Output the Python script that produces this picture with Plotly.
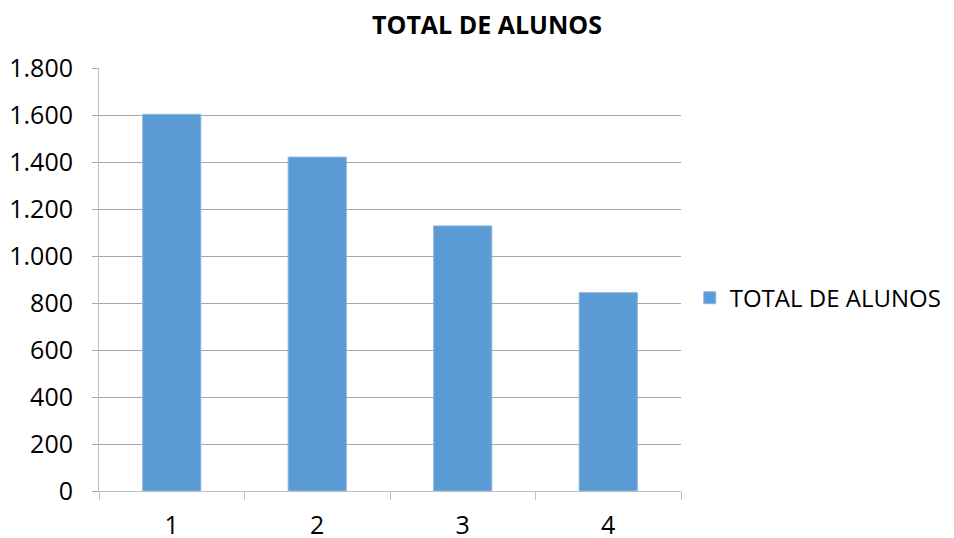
import plotly.graph_objects as go

categories = ["1", "2", "3", "4"]
values = [1603, 1421, 1128, 844]
series_name = "TOTAL DE ALUNOS"
title_text = "TOTAL DE ALUNOS"
y_ticks = [0, 200, 400, 600, 800, 1000, 1200, 1400, 1600, 1800]

FONT = "Open Sans"

fig = go.Figure()
fig.add_trace(go.Bar(
    x=categories, y=values, name=series_name,
    marker=dict(color="#5B9BD5", line=dict(color="#8DB6E2", width=1)),
    showlegend=True,
))

fig.update_layout(
    width=946, height=530,
    margin=dict(l=91, r=273, t=60, b=47, autoexpand=False),
    paper_bgcolor="white", plot_bgcolor="white",
    separators=",.",
    bargap=0.6,
    title=dict(text="<b>" + title_text + "</b>", x=479/946, xanchor="center",
               y=1 - 17/530, yanchor="middle",
               font=dict(family=FONT, size=25, color="black")),
    font=dict(family=FONT, size=25, color="black"),
    legend=dict(x=1.015, xanchor="left", y=0.456, yanchor="middle",
                font=dict(family=FONT, size=24, color="black"),
                bgcolor="rgba(0,0,0,0)", itemwidth=30),
    xaxis=dict(
        type="category", showline=True, linecolor="#BFBFBF", linewidth=1,
        ticks="outside", ticklen=8, tickcolor="#BFBFBF", tickson="boundaries",
        showgrid=False, tickfont=dict(family=FONT, size=25, color="black"),
        ticklabelstandoff=12, automargin=False,
    ),
    yaxis=dict(
        range=[0, 1800], tickvals=y_ticks, tickformat=",d",
        showline=True, linecolor="#BFBFBF", linewidth=1,
        ticks="outside", ticklen=6, tickcolor="#A6A6A6",
        showgrid=True, gridcolor="#A6A6A6", gridwidth=1,
        zeroline=False, tickfont=dict(family=FONT, size=25, color="black"),
        ticklabelstandoff=14, automargin=False,
    ),
)

fig.write_html("out.html")
